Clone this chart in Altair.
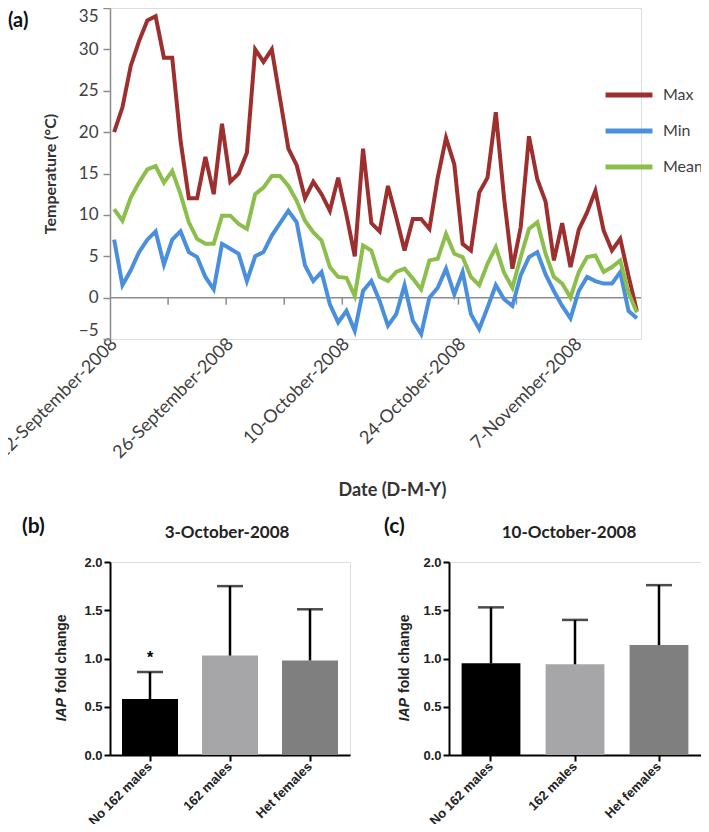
import altair as alt
import pandas as pd

# ---------------- data: panel (a) ----------------
days = list(range(64))
max_t = [20, 23, 28, 31, 33.5, 34, 29, 29, 19, 12,
         12, 17, 12.5, 21, 14, 15, 17.5, 30, 28.5, 30,
         24, 18, 16, 12, 14, 12.5, 10.5, 14.5, 10, 5,
         18, 9, 8, 13.5, 9.7, 5.7, 9.5, 9.5, 8.3, 14.5,
         19.3, 16.1, 6.5, 5.7, 12.7, 14.5, 22.4, 12, 3.5, 8.5,
         19.5, 14.3, 11.6, 4.5, 9, 3.7, 8.2, 10.3, 12.9, 8.1,
         5.7, 7.1, 2.6, -1.6]
min_t = [7, 1.5, 3.3, 5.5, 7, 8, 4, 7, 8, 5.5,
         4.9, 2.5, 1, 6.5, 5.9, 5.3, 2, 5, 5.5, 7.5,
         9, 10.5, 9.1, 3.9, 2, 3.1, -0.8, -3, -1.6, -4,
         0.8, 2, -0.4, -3.4, -2, 1.5, -2.8, -4.4, 0, 1.2,
         3.5, 0.4, 3.1, -2, -3.8, -1.2, 1.5, -0.2, -1, 2.7,
         4.9, 5.5, 2.8, 0.8, -1, -2.5, 0.8, 2.5, 2, 1.7,
         1.7, 3.1, -1.6, -2.5]
mean_t = [10.7, 9.3, 12.1, 13.9, 15.5, 15.9, 13.9, 15.3, 12.5, 9.1,
          7.1, 6.5, 6.5, 9.9, 9.9, 8.9, 8.3, 12.5, 13.3, 14.7,
          14.7, 13.5, 11.7, 9.3, 7.9, 6.9, 3.7, 2.5, 2.4, 0.2,
          6.3, 5.7, 2.5, 2.0, 3.1, 3.5, 2.3, 1.0, 4.5, 4.7,
          7.7, 5.3, 4.9, 2.5, 1.5, 4.1, 6.1, 3.0, 1.2, 4.9,
          8.3, 9.1, 5.3, 2.5, 1.7, 0.0, 3.1, 4.9, 5.1, 3.1,
          3.7, 4.5, 0.6, -1.8]
series_names = ["Max", "Min", "Mean"]
series_colors = ["#9E2F2F", "#4A8FDD", "#8CBE4C"]
tick_days = [0, 14, 28, 42, 56]
tick_labels = ["12-September-2008", "26-September-2008", "10-October-2008",
               "24-October-2008", "7-November-2008"]
y_ticks = [-5, 0, 5, 10, 15, 20, 25, 30, 35]
week_bounds = [6.5, 13.5, 20.5, 27.5, 34.5, 41.5, 48.5, 55.5, 62.5]

# ---------------- data: panels (b), (c) ----------------
groups = ["No 162 males", "162 males", "Het females"]
group_colors = ["#000000", "#A6A6A8", "#7F7F7F"]
b_mean = [0.58, 1.03, 0.98]
b_upper = [0.86, 1.75, 1.51]
b_star = ["*", "", ""]
c_mean = [0.95, 0.94, 1.14]
c_upper = [1.53, 1.40, 1.76]
c_star = ["", "", ""]
bar_ticks = [0, 0.5, 1.0, 1.5, 2.0]

# ---------------- panel (a) ----------------
rows = []
for name, vals in zip(series_names, [max_t, min_t, mean_t]):
    for d, v in zip(days, vals):
        rows.append({"day": d, "series": name, "temp": v})
df = pd.DataFrame(rows)

label_expr = ""
for d, l in zip(tick_days, tick_labels):
    label_expr += f"datum.value == {d} ? '{l}' : "
label_expr += "''"

FONT_A = "Lato"
GRAY = "#8C8C8C"
TXT = "#404040"

xscale = alt.Scale(domain=[-0.5, 63.5], nice=False, zero=False)
yscale = alt.Scale(domain=[-5, 35], nice=False, zero=False)

x_enc = alt.X("day:Q", scale=xscale,
              axis=alt.Axis(values=tick_days, labelExpr=label_expr, labelAngle=-45,
                            labelAlign="right", labelBaseline="middle",
                            domain=False, ticks=False, grid=False,
                            labelFont=FONT_A, labelFontSize=18, labelColor=TXT,
                            labelPadding=2, labelOverlap=False,
                            title="Date (D-M-Y)", titleFont=FONT_A, titleFontSize=18,
                            titleFontWeight="bold", titleColor="#333333", titlePadding=20,
                            titleX=282))
y_enc = alt.Y("temp:Q", scale=yscale,
              axis=alt.Axis(values=y_ticks, grid=False, domainColor=GRAY, domainWidth=1.5,
                            tickColor=GRAY, tickWidth=1.5, tickSize=7,
                            labelFont=FONT_A, labelFontSize=17, labelColor=TXT,
                            labelPadding=5, labelFlush=True,
                            title="Temperature (°C)", titleFont=FONT_A, titleFontSize=16,
                            titleFontWeight="bold", titleColor="#333333", titlePadding=20))

lines = alt.Chart(df).mark_line(strokeWidth=4).encode(
    x=x_enc, y=y_enc,
    color=alt.Color("series:N", sort=series_names,
                    scale=alt.Scale(domain=series_names, range=series_colors),
                    legend=alt.Legend(orient="none", legendX=493, legendY=61, title=None,
                                      symbolType="stroke", symbolSize=2200,
                                      symbolStrokeWidth=5, rowPadding=0, labelOffset=8,
                                      labelFont=FONT_A, labelFontSize=16, labelColor=TXT)),
)

zero_df = pd.DataFrame({"y": [0]})
baseline = alt.Chart(zero_df).mark_rule(color=GRAY, strokeWidth=1.5).encode(
    y=alt.Y("y:Q", scale=yscale))

ticks_df = pd.DataFrame({"x": week_bounds, "y": [0] * len(week_bounds),
                         "y2": [-0.85] * len(week_bounds)})
wticks = alt.Chart(ticks_df).mark_rule(color=GRAY, strokeWidth=1.5).encode(
    x=alt.X("x:Q", scale=xscale), y=alt.Y("y:Q", scale=yscale), y2="y2:Q")


def text_layer(txt, x, y, **kw):
    return alt.Chart(pd.DataFrame({"t": [txt]})).mark_text(**kw).encode(
        text="t:N", x=alt.value(x), y=alt.value(y))


letter_a = text_layer("(a)", -102, 13, font=FONT_A, fontWeight="bold", fontSize=20,
                      align="left", baseline="middle", color="#111111")

top = alt.layer(baseline, wticks, lines, letter_a).properties(width=531, height=331)

# ---------------- panels (b) and (c) ----------------
FONT_B = "Liberation Sans"


def bar_panel(means, uppers, stars, title, letter, letter_x, title_x, ytitle_x, width):
    d = pd.DataFrame({"group": groups, "mean": means, "upper": uppers, "star": stars})
    x = alt.X("group:N", sort=groups,
              scale=alt.Scale(paddingInner=0.3, paddingOuter=0.15),
              axis=alt.Axis(title=None, labelAngle=-45, labelAlign="right",
                            labelBaseline="middle", labelFont=FONT_B, labelFontWeight="bold",
                            labelFontSize=13, labelColor="#222222", labelPadding=3,
                            tickSize=6, tickColor="black", tickWidth=2,
                            domainColor="black", domainWidth=2))
    y = alt.Y("mean:Q", scale=alt.Scale(domain=[0, 2], nice=False),
              axis=alt.Axis(values=bar_ticks, format=".1f", title=None, grid=False,
                            labelFont=FONT_B, labelFontWeight="bold", labelFontSize=13,
                            labelColor="#222222", tickSize=6, tickColor="black",
                            tickWidth=2, domainColor="black", domainWidth=2))
    base = alt.Chart(d)
    bars = base.mark_bar().encode(
        x=x, y=y,
        color=alt.Color("group:N", scale=alt.Scale(domain=groups, range=group_colors),
                        legend=None))
    err = base.mark_rule(color="black", strokeWidth=2.5).encode(x=x, y="mean:Q", y2="upper:Q")
    cap = base.mark_tick(color="black", thickness=2.5, size=26).encode(x=x, y="upper:Q")
    star = base.mark_text(dy=-14, fontSize=16, fontWeight="bold", font=FONT_B,
                          color="black").encode(x=x, y="upper:Q", text="star:N")
    layers = [bars, err, cap, star,
              text_layer(letter, letter_x, -35, font=FONT_A, fontWeight="bold", fontSize=21,
                         align="left", baseline="middle", color="#111111"),
              text_layer(title, title_x, -29, font=FONT_A, fontWeight="bold", fontSize=17,
                         align="center", baseline="middle", color="#222222"),
              text_layer("IAP", ytitle_x, 136, font=FONT_B, fontWeight="bold",
                         fontStyle="italic", fontSize=14, angle=270, align="right",
                         baseline="middle", color="#222222"),
              text_layer("fold change", ytitle_x, 131, font=FONT_B, fontWeight="bold",
                         fontSize=14, angle=270, align="left", baseline="middle",
                         color="#222222")]
    return alt.layer(*layers).properties(width=width, height=193)


panel_b = bar_panel(b_mean, b_upper, b_star, "3-October-2008", "(b)", -88, 117, -48, 240)
panel_c = bar_panel(c_mean, c_upper, c_star, "10-October-2008", "(c)", -65, 120, -44, 252)

bottom = alt.hconcat(panel_b, panel_c, spacing=32).resolve_scale(color="independent")

chart = alt.concat(top, bottom, columns=1, spacing=14).resolve_scale(
    color="independent").properties(
    autosize=alt.AutoSizeParams(type="none"),
    padding={"left": 102, "top": 0, "right": 591, "bottom": 816}
).configure_view(stroke=None).configure(background="white")

chart.save("out.html", embed_options={"renderer": "svg", "actions": False})
